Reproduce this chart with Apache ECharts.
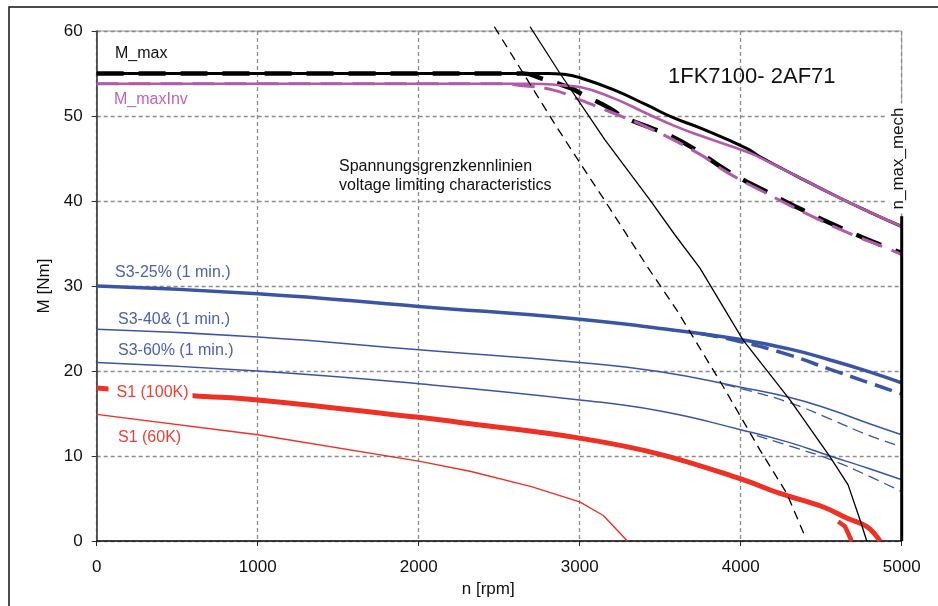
<!DOCTYPE html>
<html>
<head>
<meta charset="utf-8">
<script src="https://cdn.jsdelivr.net/npm/echarts@6/dist/echarts.min.js"></script>
<style>
html,body{margin:0;padding:0;background:#fff;}
#c{width:938px;height:606px;}
</style>
</head>
<body>
<div id="c"></div>
<script>
// ---- data (n [rpm], M [Nm]) ----
const xTicks = [0, 1000, 2000, 3000, 4000, 5000];
const yTicks = [0, 10, 20, 30, 40, 50, 60];

const mMax        = [[0,55],[2800,55],[2900,54.9],[3002,54.5],[3209,53.1],[3416,51.3],[3581,49.8],[3747,48.6],[4037,46.2],[4120,45.2],[4350,42.9],[4600,40.5],[4800,38.7],[5000,37.0]];
const mMaxInv     = [[0,53.8],[2700,53.8],[2898,53.6],[3002,53.4],[3209,52.1],[3416,50.3],[3581,48.9],[3747,47.7],[4037,45.8],[4120,45.1],[4350,42.9],[4600,40.5],[4800,38.7],[5000,37.0]];
const mMaxDash    = [[0,55],[2650,55],[2764,54.4],[2940,53.3],[3022,52.5],[3188,50.9],[3271,49.9],[3457,48.5],[3550,47.8],[3706,46.2],[3913,43.6],[4150,41.2],[4389,38.9],[4650,36.6],[4927,34.4],[5000,33.9]];
const mMaxInvDash = [[0,53.8],[2500,53.8],[2629,53.6],[2826,53.1],[3002,51.9],[3188,50.5],[3416,48.7],[3737,45.6],[3913,43.4],[4150,41.0],[4389,38.7],[4650,36.4],[4927,34.3],[5000,33.7]];

const s3_25      = [[0,30],[1000,29.1],[2000,27.6],[3000,26.1],[3500,25.0],[4000,23.7],[4300,22.6],[4555,21.3],[4800,19.9],[5000,18.6]];
const s3_25Dash  = [[3750,24.4],[4000,23.45],[4300,21.9],[4555,20.2],[4800,18.6],[5000,17.3]];
const s3_40      = [[0,24.9],[1000,24.0],[2000,22.5],[3000,21.0],[3500,19.9],[4000,18.1],[4300,16.9],[4550,15.5],[4800,13.8],[5000,12.5]];
const s3_40Dash  = [[3900,18.4],[4000,17.95],[4300,16.3],[4550,14.4],[4800,12.4],[5000,11.1]];
const s3_60      = [[0,21.0],[1000,20.0],[2000,18.5],[3000,16.6],[3500,15.3],[4000,13.1],[4300,11.6],[4555,10.0],[4800,8.5],[5000,7.2]];
const s3_60Dash  = [[4100,12.4],[4300,11.2],[4555,9.6],[4800,7.6],[5000,5.8]];

const s1_100K    = [[0,18],[600,17.1],[1000,16.6],[2000,14.55],[2319,13.8],[3000,12.1],[3500,10.2],[4000,7.3],[4244,5.6],[4513,4.0],[4658,2.7],[4783,1.7],[4865,0]];
const s1_100KB   = [[4606,2.3],[4648,1.7],[4689,0]];
const s1_60K     = [[0,14.9],[1000,12.5],[2000,9.4],[2319,8.2],[2700,6.4],[3000,4.6],[3147,3.0],[3296,0]];

const vLimit     = [[2692,60.5],[2878,55.0],[3157,47.2],[3437,40.1],[3592,36.0],[3747,32.1],[4016,23.6],[4306,16.6],[4555,9.9],[4667,6.6],[4741,2.5],[4783,0]];
const vLimitDash = [[2470,60.5],[2857,48.7],[3063,42.7],[3147,40.3],[3426,32.1],[3602,27.2],[3892,18.15],[4120,10.7],[4286,5.6],[4405,0.3]];
const nMaxMech   = [[5000,0],[5000,38.2]];

// ---- styling ----
const FONT = "'Liberation Sans', Arial, sans-serif";
const BLACK = '#000000', PURPLE = '#B35BAA', BLUE = '#3A55A6', RED = '#EE3124';

function line(name, data, color, width, type, z, smooth, clip) {
  return {
    name, type: 'line', data, symbol: 'none', z,
    smooth: smooth || false,
    clip: clip === undefined ? true : clip,
    lineStyle: { color, width, type: type || 'solid', cap: 'butt', join: 'round' },
    silent: true, animation: false
  };
}

function label(text, x, y, color, extra) {
  return Object.assign({
    type: 'text', x, y, z: 100,
    style: {
      text, fill: color, font: '16px ' + FONT,
      align: 'left', verticalAlign: 'middle',
      textAlign: 'left', textVerticalAlign: 'middle'
    }
  }, extra || {});
}

const chart = echarts.init(document.getElementById('c'), null, { renderer: 'canvas' });

chart.setOption({
  animation: false,
  backgroundColor: '#fff',
  grid: { left: 96.7, top: 31, right: 36.3, bottom: 65, show: true, borderColor: '#9a9a9a', borderWidth: 1, backgroundColor: 'transparent' },
  xAxis: {
    type: 'value', min: xTicks[0], max: xTicks[xTicks.length - 1], interval: 1000,
    name: 'n [rpm]', nameLocation: 'middle', nameGap: 40,
    nameTextStyle: { fontFamily: FONT, fontSize: 17, color: '#111', padding: [0, 22, 0, 0] },
    axisLine: { onZero: false, lineStyle: { color: '#111', width: 1.5 } },
    axisTick: { show: true, inside: false, length: 5, lineStyle: { color: '#222', width: 1 } },
    axisLabel: { fontFamily: FONT, fontSize: 17, color: '#111', margin: 18, formatter: v => String(v) },
    splitLine: { show: true, lineStyle: { color: '#8c8c8c', width: 1.3, type: [4, 3] } }
  },
  yAxis: {
    type: 'value', min: yTicks[0], max: yTicks[yTicks.length - 1], interval: 10,
    name: 'M [Nm]', nameLocation: 'middle', nameGap: 44,
    nameTextStyle: { fontFamily: FONT, fontSize: 17, color: '#111' },
    axisLine: { show: true, onZero: false, lineStyle: { color: '#333', width: 1.5 } },
    axisTick: { show: true, inside: false, length: 5, lineStyle: { color: '#333', width: 1 } },
    axisLabel: { fontFamily: FONT, fontSize: 17, color: '#111', margin: 14, formatter: v => String(v) },
    splitLine: { show: true, lineStyle: { color: '#8c8c8c', width: 1.3, type: [4, 3] } }
  },
  series: [
    line('S1 (60K)', s1_60K, RED, 1.4, 'solid', 3),
    line('S3-60% dash', s3_60Dash, BLUE, 1.3, [11, 6], 3, 0.5),
    line('S3-60% (1 min.)', s3_60, BLUE, 1.5, 'solid', 4, 0.5),
    line('S3-40& dash', s3_40Dash, BLUE, 1.3, [11, 6], 3, 0.5),
    line('S3-40& (1 min.)', s3_40, BLUE, 1.5, 'solid', 4, 0.5),
    line('S3-25% dash', s3_25Dash, BLUE, 3.5, [18, 8], 3, 0.5),
    line('S3-25% (1 min.)', s3_25, BLUE, 3.5, 'solid', 4, 0.5),
    line('S1 (100K) b', s1_100KB, RED, 4.5, 'solid', 5),
    line('S1 (100K)', s1_100K, RED, 5, 'solid', 5, 0.4),
    line('M_max dash', mMaxDash, BLACK, 4.5, [27, 15], 6, 0.5),
    line('M_maxInv dash', mMaxInvDash, PURPLE, 3, [22, 10], 7, 0.5),
    line('M_max', mMax, BLACK, 3, 'solid', 8, 0.5),
    line('M_maxInv', mMaxInv, PURPLE, 2.6, 'solid', 9, 0.5),
    line('voltage limit', vLimit, BLACK, 1.3, 'solid', 10, false, false),
    line('voltage limit dash', vLimitDash, BLACK, 1.3, [9, 6], 10, false, false),
    line('n_max_mech', nMaxMech, BLACK, 3, 'solid', 11)
  ],
  graphic: {
    elements: [
      { type: 'rect', z: 0, shape: { x: 9, y: 7, width: 1000, height: 700 }, style: { fill: 'none', stroke: '#111', lineWidth: 1.5 } },
      label('M_max', 115, 54, '#111'),
      label('M_maxInv', 114, 100, '#C264B8'),
      label('Spannungsgrenzkennlinien', 339, 166.5, '#111'),
      label('voltage limiting characteristics', 339, 185.5, '#111'),
      {
        type: 'text', x: 668, y: 77, z: 100,
        style: { text: '1FK7100- 2AF71', fill: '#111', font: '22px ' + FONT, align: 'left', verticalAlign: 'middle', textAlign: 'left', textVerticalAlign: 'middle' }
      },
      label('S3-25% (1 min.)', 115, 272.5, '#4A62AE'),
      label('S3-40& (1 min.)', 118, 320, '#4A62AE'),
      label('S3-60% (1 min.)', 118, 351, '#4A62AE'),
      {
        type: 'text', x: 108.5, y: 392.5, z: 100,
        style: { text: 'S1 (100K)', fill: '#EE4035', font: '16px ' + FONT, align: 'left', verticalAlign: 'middle', textAlign: 'left', textVerticalAlign: 'middle', backgroundColor: '#fff', padding: [3, 4, 3, 8] }
      },
      label('S1 (60K)', 118, 438, '#EE4035'),
      {
        type: 'text', x: 898, y: 158.5, rotation: Math.PI / 2, z: 100,
        style: { text: 'n_max_mech', fill: '#111', font: '17px ' + FONT, align: 'center', verticalAlign: 'middle', textAlign: 'center', textVerticalAlign: 'middle', backgroundColor: '#fff', padding: [4, 4, 3, 4] }
      }
    ]
  }
});
</script>
</body>
</html>
